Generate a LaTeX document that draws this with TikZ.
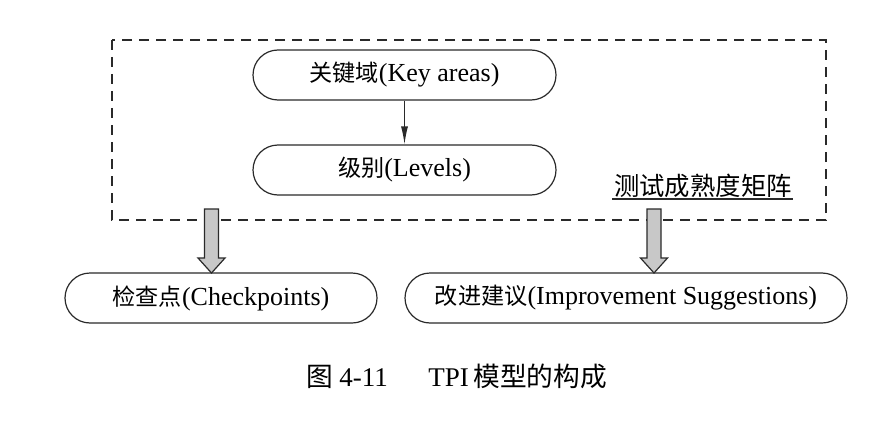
\documentclass[tikz,border=0pt]{standalone}
\usepackage{fontspec}
\setmainfont{Liberation Serif}
\newfontfamily\cjk{Noto Sans CJK SC}[Scale=0.89]
\usetikzlibrary{arrows.meta,calc}
\definecolor{ink}{HTML}{2A2A2A}
\definecolor{arrowfill}{HTML}{C8C8C8}
\tikzset{
  pill/.style={draw=ink, line width=1.2pt, rounded corners=25pt, minimum height=50pt, inner sep=0pt, font=\fontsize{26}{30}\selectfont},
  fatarrow/.pic={\draw[fill=arrowfill, draw=ink, line width=1.2pt] (-7,0) -- (7,0) -- (7,-49) -- (13.5,-49) -- (0,-64) -- (-13.5,-49) -- (-7,-49) -- cycle;},
  thinarrow/.style={draw=ink, line width=1.2pt, -{Latex[length=18pt,width=7pt]}}
}
\begin{document}
\begin{tikzpicture}[x=1pt,y=1pt]
\useasboundingbox (0,0) rectangle (874,-425);
\draw[ink, line width=1.3pt, dash pattern=on 10pt off 7pt] (112,-40) rectangle (826,-220);
\node[pill, minimum width=303pt] (ka) at (404.5,-75) {{\cjk 关键域}(Key areas)};
\node[pill, minimum width=303pt] (lv) at (404.5,-170) {{\cjk 级别}(Levels)};
\draw[thinarrow] (ka) -- (lv);
\node[inner sep=0pt, font=\fontsize{28.5}{32}\selectfont] (lbl) at (703,-186) {\cjk 测试成熟度矩阵};
\draw[ink, line width=1.2pt] (612,-199) -- (793,-199);
\node[pill, minimum width=312pt] (cp) at (221,-298) {{\cjk 检查点}(Checkpoints)};
\node[pill, minimum width=442pt] (im) at (626,-298) {{\cjk 改进建议}(Improvement Suggestions)};
\pic at (211.5,-209) {fatarrow};
\pic at (654,-209) {fatarrow};
\node[inner sep=0pt, font=\fontsize{27}{32}\selectfont] (cap) at (456.5,-376) {{\fontsize{30}{32}\selectfont\cjk 图}\ 4-11\hspace{1.5em}TPI\,{\fontsize{30}{32}\selectfont\cjk 模型的构成}};
\end{tikzpicture}
\end{document}
